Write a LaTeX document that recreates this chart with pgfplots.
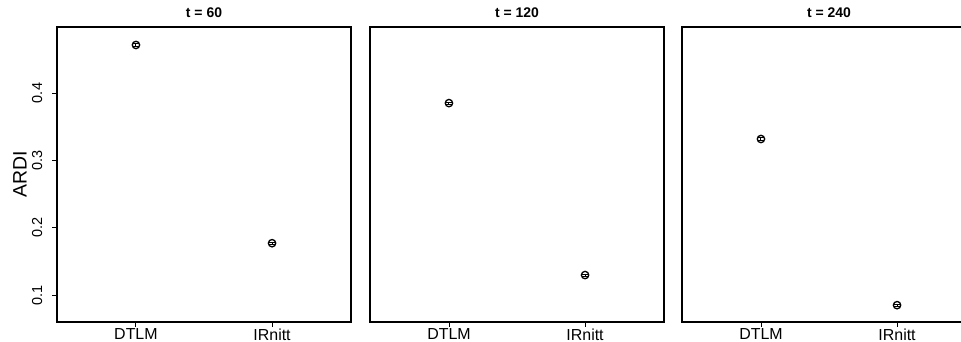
\documentclass[border=0pt]{standalone}
\usepackage{pgfplots}
\pgfplotsset{compat=1.18}
\usepackage{fontspec}
\setmainfont{Liberation Sans}
\pgfplotsset{
  panel/.style={
    width=294bp, height=295bp, scale only axis,
    anchor=south west,
    xmin=0.42, xmax=2.58, ymin=0.06, ymax=0.498,
    xtick={1,2}, xticklabels={DTLM,IRnitt},
    xtick pos=lower, ytick pos=left,
    tick align=outside, major tick length=4.5bp,
    axis line style={line width=1.1bp, black},
    every tick/.style={black, line width=0.9bp},
    xticklabel style={font=\fontsize{16}{16}\selectfont, inner sep=1bp, yshift=-1bp},
    title style={font=\bfseries\fontsize{14}{14}\selectfont, at={(0.5,1)}, anchor=base, inner sep=0bp, yshift=3.7bp},
    /pgf/number format/assume math mode=true,
    clip=false,
  },
  pt/.style={only marks, mark=o, mark size=3.7bp, black, line width=1.3bp,
    error bars/.cd, y dir=both, y explicit, error mark=-, error bar style={line width=1bp}, error mark options={mark size=3bp, rotate=90}},
}
\begin{document}
\begin{tikzpicture}
\begin{axis}[panel, at={(57bp,20bp)}, title={t = 60},
  ytick={0.1,0.2,0.3,0.4},
  yticklabel style={font=\fontsize{14.5}{14.5}\selectfont, xshift=-10bp, rotate=90, anchor=south, inner sep=0bp},
  ylabel={ARDI},
  ylabel style={font=\fontsize{19.5}{19.5}\selectfont, at={(axis description cs:-0.126,0.5)}, anchor=center},
  ]
\addplot[pt] coordinates {(1,0.4713) +- (0,0.002) (2,0.177) +- (0,0.002)};
\end{axis}
\begin{axis}[panel, at={(370bp,20bp)}, title={t = 120}, ytick=\empty]
\addplot[pt] coordinates {(1,0.385) +- (0,0.002) (2,0.1297) +- (0,0.002)};
\end{axis}
\begin{axis}[panel, at={(682bp,20bp)}, title={t = 240}, ytick=\empty]
\addplot[pt] coordinates {(1,0.3317) +- (0,0.002) (2,0.085) +- (0,0.002)};
\end{axis}
\pgfresetboundingbox
\useasboundingbox (0bp,0bp) rectangle (961bp,342bp);
\end{tikzpicture}
\end{document}
